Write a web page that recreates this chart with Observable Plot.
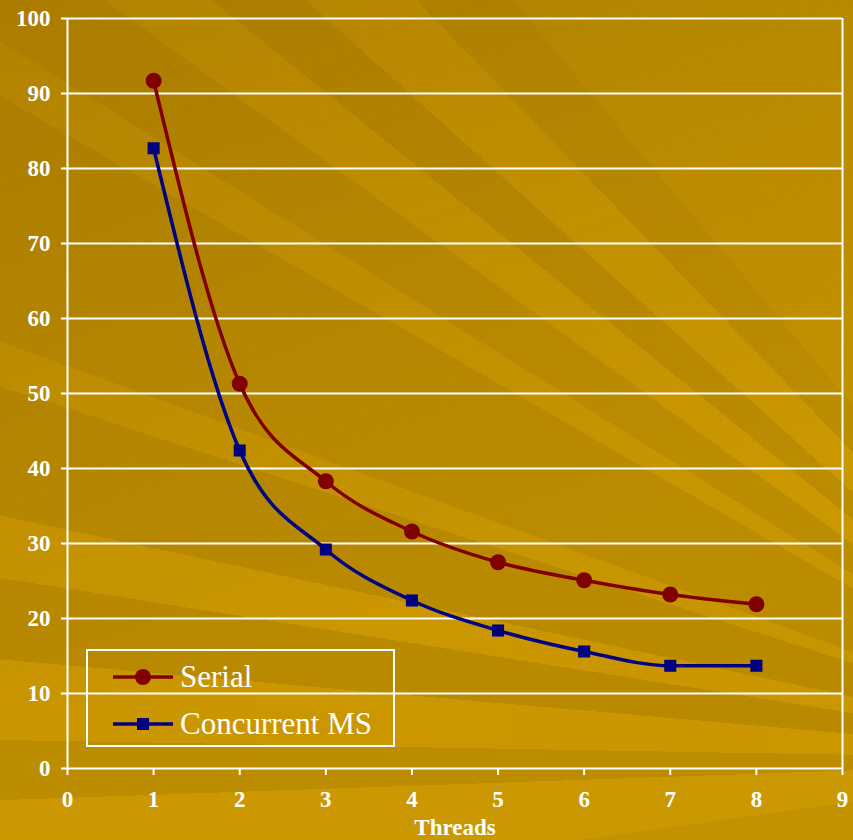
<!DOCTYPE html>
<html>
<head>
<meta charset="utf-8">
<script src="https://cdn.jsdelivr.net/npm/d3@7"></script>
<script src="https://cdn.jsdelivr.net/npm/@observablehq/plot@0.6"></script>
<style>
  html, body { margin: 0; padding: 0; }
  body {
    width: 853px; height: 840px; overflow: hidden; position: relative;
    background-color: #c39200;
    background-image:
      linear-gradient(160deg, rgba(150,105,0,0.45) 0%, rgba(150,105,0,0.15) 40%, rgba(150,105,0,0) 65%),
      conic-gradient(from 0deg at 1150px 760px,
        rgba(0,0,0,0) 0deg 262deg,
        rgba(220,165,0,0.30) 262deg 268deg,
        rgba(160,115,0,0.18) 268deg 271deg,
        rgba(220,165,0,0.25) 271deg 275deg,
        rgba(150,108,0,0.22) 275deg 279deg,
        rgba(220,165,0,0.25) 279deg 282deg,
        rgba(150,108,0,0.22) 282deg 288deg,
        rgba(220,165,0,0.15) 288deg 290deg,
        rgba(150,108,0,0.18) 290deg 300deg,
        rgba(220,165,0,0.20) 300deg 302deg,
        rgba(150,108,0,0.15) 302deg 306deg,
        rgba(220,165,0,0.30) 306deg 309deg,
        rgba(150,108,0,0.18) 309deg 312deg,
        rgba(220,165,0,0.30) 312deg 316deg,
        rgba(150,108,0,0.15) 316deg 320deg,
        rgba(0,0,0,0) 320deg 360deg);
  }
  #chart { position: absolute; left: 0; top: 0; }
  #legend {
    position: absolute; left: 86px; top: 649px; width: 305px; height: 94px;
    border: 2px solid white;
    font-family: "Liberation Serif", "Times New Roman", serif;
    font-size: 31px; color: white;
  }
  .row { position: absolute; left: 0; height: 40px; display: flex; align-items: center; }
  .row svg { margin-left: 25px; margin-right: 7px; }
</style>
</head>
<body>
<div id="chart"></div>
<div id="legend"></div>
<script>
const threads = [1, 2, 3, 4, 5, 6, 7, 8];
const serialTime = [91.7, 51.3, 38.3, 31.6, 27.5, 25.1, 23.2, 21.9];
const concurrentTime = [82.7, 42.4, 29.2, 22.4, 18.4, 15.6, 13.7, 13.7];
const seriesNames = ["Serial", "Concurrent MS"];
const seriesColors = ["#800000", "#000080"];
const seriesSymbols = ["circle", "square"];
const yTicks = [0, 10, 20, 30, 40, 50, 60, 70, 80, 90, 100];
const xTicks = [0, 1, 2, 3, 4, 5, 6, 7, 8, 9];
const xLabel = "Threads";

const serialRows = threads.map((t, i) => ({t, v: serialTime[i]}));
const concRows = threads.map((t, i) => ({t, v: concurrentTime[i]}));

const font = "'Liberation Serif', 'Times New Roman', serif";

const chart = Plot.plot({
  width: 853, height: 840,
  marginLeft: 67, marginRight: 11, marginTop: 18, marginBottom: 72,
  x: {domain: [xTicks[0], xTicks[xTicks.length - 1]]},
  y: {domain: [yTicks[0], yTicks[yTicks.length - 1]]},
  style: {background: "transparent", color: "white", fontFamily: font, fontSize: "23px", fontWeight: "bold"},
  marks: [
    Plot.ruleY(yTicks, {stroke: "white", strokeWidth: 2}),
    Plot.ruleX([xTicks[0], xTicks[xTicks.length - 1]], {stroke: "white", strokeWidth: 2}),
    Plot.axisY({ticks: yTicks, tickSize: 6, tickPadding: 11, strokeWidth: 2,
      fontSize: 23, fontWeight: "bold", label: null}),
    Plot.axisX({ticks: xTicks, tickSize: 7, tickPadding: 15, strokeWidth: 2,
      fontSize: 23, fontWeight: "bold", label: xLabel, labelAnchor: "center",
      labelOffset: 66, labelArrow: "none"}),
    Plot.line(serialRows, {x: "t", y: "v", curve: "monotone-x", stroke: seriesColors[0], strokeWidth: 3.5}),
    Plot.line(concRows, {x: "t", y: "v", curve: "monotone-x", stroke: seriesColors[1], strokeWidth: 3.5}),
    Plot.dot(serialRows, {x: "t", y: "v", r: 8, symbol: seriesSymbols[0], fill: seriesColors[0]}),
    Plot.dot(concRows, {x: "t", y: "v", r: 6.8, symbol: seriesSymbols[1], fill: seriesColors[1]})
  ]
});
document.getElementById("chart").appendChild(chart);

// Legend
const legend = document.getElementById("legend");
seriesNames.forEach((name, i) => {
  const row = document.createElement("div");
  row.className = "row";
  row.style.top = (6 + i * 47) + "px";
  const sym = seriesSymbols[i] === "circle"
    ? `<circle cx="30" cy="10" r="8" fill="${seriesColors[i]}"/>`
    : `<rect x="24" y="4" width="12" height="12" fill="${seriesColors[i]}"/>`;
  row.innerHTML = `<svg width="60" height="20"><line x1="0" x2="60" y1="10" y2="10" stroke="${seriesColors[i]}" stroke-width="3.5"/>${sym}</svg><span>${name}</span>`;
  legend.appendChild(row);
});
</script>
</body>
</html>
